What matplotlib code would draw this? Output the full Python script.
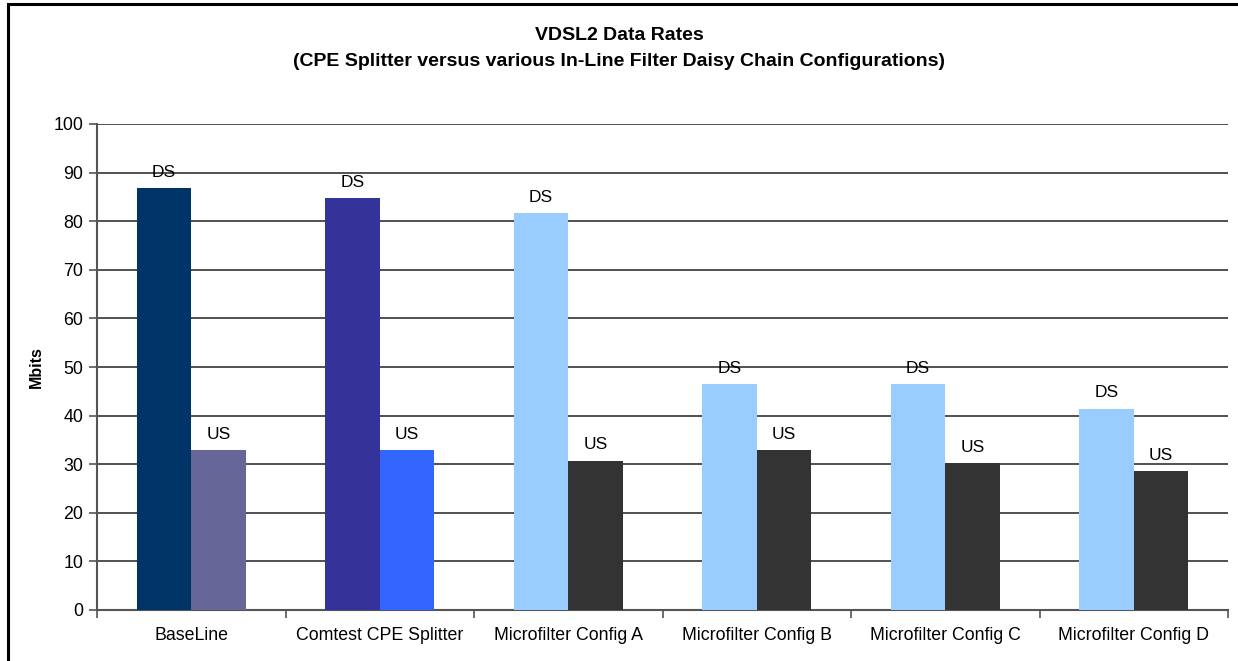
import matplotlib
matplotlib.use('Agg')
import matplotlib.pyplot as plt
from matplotlib.patches import Rectangle
import numpy as np

plt.rcParams['font.family'] = ['Liberation Sans', 'DejaVu Sans']

# 数据
categories = ['BaseLine', 'Comtest CPE Splitter', 'Microfilter Config A',
              'Microfilter Config B', 'Microfilter Config C', 'Microfilter Config D']
ds_rates = [86.8, 84.8, 81.7, 46.5, 46.5, 41.4]
us_rates = [32.9, 32.9, 30.7, 32.9, 30.2, 28.6]
ds_colors = ['#003366', '#333399', '#99CCFF', '#99CCFF', '#99CCFF', '#99CCFF']
us_colors = ['#666699', '#3366FF', '#333333', '#333333', '#333333', '#333333']

fig = plt.figure(figsize=(12.38, 6.61), dpi=100)
ax = fig.add_axes([97 / 1238, 1 - 610 / 661, (1228 - 97) / 1238, (610 - 124) / 661])

x = np.arange(len(categories))
w = 0.29
ds_bars = ax.bar(x, ds_rates, width=-w, align='edge', color=ds_colors, zorder=3)
us_bars = ax.bar(x, us_rates, width=w, align='edge', color=us_colors, zorder=3)

# 柱顶标签
for bars, lab in ((ds_bars, 'DS'), (us_bars, 'US')):
    for b in bars:
        ax.annotate(lab, (b.get_x() + b.get_width() / 2, b.get_height()),
                    xytext=(0, 6), textcoords='offset points',
                    ha='center', va='bottom', fontsize=12.5, zorder=4)

ax.set_xlim(-0.5, len(categories) - 0.5)
ax.set_ylim(0, 100)
ax.set_yticks(np.arange(0, 101, 10))
ax.yaxis.grid(True, color='#333333', linewidth=1.2, zorder=0)
ax.set_axisbelow(True)

# x轴：刻度在类别边界，标签在中间
ax.set_xticks(np.arange(-0.5, len(categories), 1.0))
ax.set_xticklabels([])
ax.set_xticks(x, minor=True)
ax.set_xticklabels(categories, minor=True, fontsize=12.8)
ax.tick_params(axis='x', which='minor', length=0, pad=12)
ax.tick_params(axis='x', which='major', length=6, width=1.2, color='#555555')
ax.tick_params(axis='y', length=6, width=1.2, color='#555555', labelsize=12.8, pad=4)

for s in ('top', 'right'):
    ax.spines[s].set_visible(False)
for s in ('left', 'bottom'):
    ax.spines[s].set_color('#555555')
    ax.spines[s].set_linewidth(1.5)

ax.set_ylabel('Mbits', fontsize=11.5, fontweight='bold')
ax.yaxis.set_label_coords((44 - 97) / 1131, 0.5)

fig.text(0.5, 1 - 36 / 661, 'VDSL2 Data Rates', ha='center', va='center',
         fontsize=14, fontweight='bold')
fig.text(0.5, 1 - 61 / 661,
         '(CPE Splitter versus various In-Line Filter Daisy Chain Configurations)',
         ha='center', va='center', fontsize=14, fontweight='bold')

# 外框
fig.patches.append(Rectangle((7.5 / 1238, -0.1), 2, 1.1 - 4 / 661,
                             transform=fig.transFigure, fill=False,
                             edgecolor='black', linewidth=2.2))

fig.savefig('out.png', dpi=100)
